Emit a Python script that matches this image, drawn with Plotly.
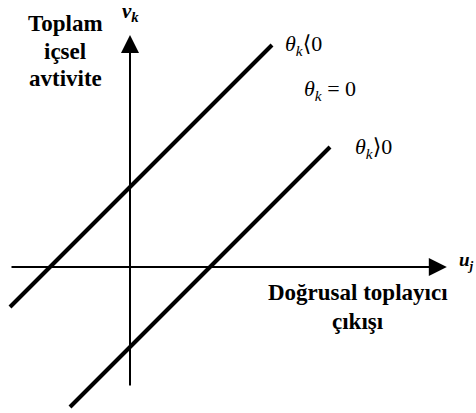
import plotly.graph_objects as go

# Lines (in diagram units; origin at axis crossing)
upper_u = [-1.5, 1.775]   # theta_k < 0
upper_v = [-0.5, 2.775]
lower_u = [-0.75, 2.5]    # theta_k > 0
lower_v = [-1.75, 1.5]

# axis extents
xaxis_u = [-1.5, 3.96]
yaxis_v = [-1.5, 2.9]

labels_sym = ["θ<sub>k</sub>", "θ<sub>k</sub>", "θ<sub>k</sub>"]
labels_rel = ["⟨0", " = 0", "⟩0"]
labels_u = [2.17, 2.5, 3.04]
labels_v = [2.775, 2.2125, 1.4875]

ylabel_lines = ["Toplam", "içsel", "avtivite"]
ylabel_v = [3.05, 2.7, 2.36]
xlabel_lines = ["Doğrusal toplayıcı", "çıkışı"]
xlabel_v = [-0.32, -0.68]

FONT = "Liberation Serif, Times New Roman, DejaVu Serif, serif"

fig = go.Figure()
fig.add_trace(go.Scatter(x=upper_u, y=upper_v, mode="lines",
                         line=dict(color="black", width=4), hoverinfo="skip"))
fig.add_trace(go.Scatter(x=lower_u, y=lower_v, mode="lines",
                         line=dict(color="black", width=4), hoverinfo="skip"))

# axes with arrows
fig.add_annotation(x=xaxis_u[1], y=0, ax=xaxis_u[0], ay=0, xref="x", yref="y",
                   axref="x", ayref="y", showarrow=True, arrowhead=2,
                   arrowsize=1.8, arrowwidth=2, arrowcolor="black", text="")
fig.add_annotation(x=0, y=yaxis_v[1], ax=0, ay=yaxis_v[0], xref="x", yref="y",
                   axref="x", ayref="y", showarrow=True, arrowhead=2,
                   arrowsize=1.8, arrowwidth=2, arrowcolor="black", text="")

for s, r, u, v in zip(labels_sym, labels_rel, labels_u, labels_v):
    fig.add_annotation(x=u, y=v, xref="x", yref="y", text="<i>" + s + "</i>" + r,
                       showarrow=False, font=dict(family=FONT, size=22, color="black"))

for t, v in zip(ylabel_lines, ylabel_v):
    fig.add_annotation(x=-0.8125, y=v, xref="x", yref="y", text="<b>" + t + "</b>",
                       showarrow=False, font=dict(family=FONT, size=23, color="black"))
for t, v in zip(xlabel_lines, xlabel_v):
    fig.add_annotation(x=2.85, y=v, xref="x", yref="y", text="<b>" + t + "</b>",
                       showarrow=False, font=dict(family=FONT, size=23, color="black"))

fig.add_annotation(x=0, y=3.19, xref="x", yref="y", text="<b><i>v<sub>k</sub></i></b>",
                   showarrow=False, font=dict(family=FONT, size=21, color="black"))
fig.add_annotation(x=1, y=0.07, xref="paper", yref="y", text="<b><i>u<sub>j</sub></i></b>",
                   xanchor="right", showarrow=False,
                   font=dict(family=FONT, size=19, color="black"))

fig.update_layout(
    width=476, height=413,
    margin=dict(l=0, r=0, t=0, b=0),
    plot_bgcolor="white", paper_bgcolor="white",
    showlegend=False,
    xaxis=dict(range=[-1.625, 4.325], visible=False, fixedrange=True),
    yaxis=dict(range=[-1.825, 3.3375], visible=False, fixedrange=True),
)
fig.write_html(
    "out.html",
    config={"displayModeBar": False},
    post_script="document.body.style.margin='0';document.body.style.overflow='hidden';",
)
